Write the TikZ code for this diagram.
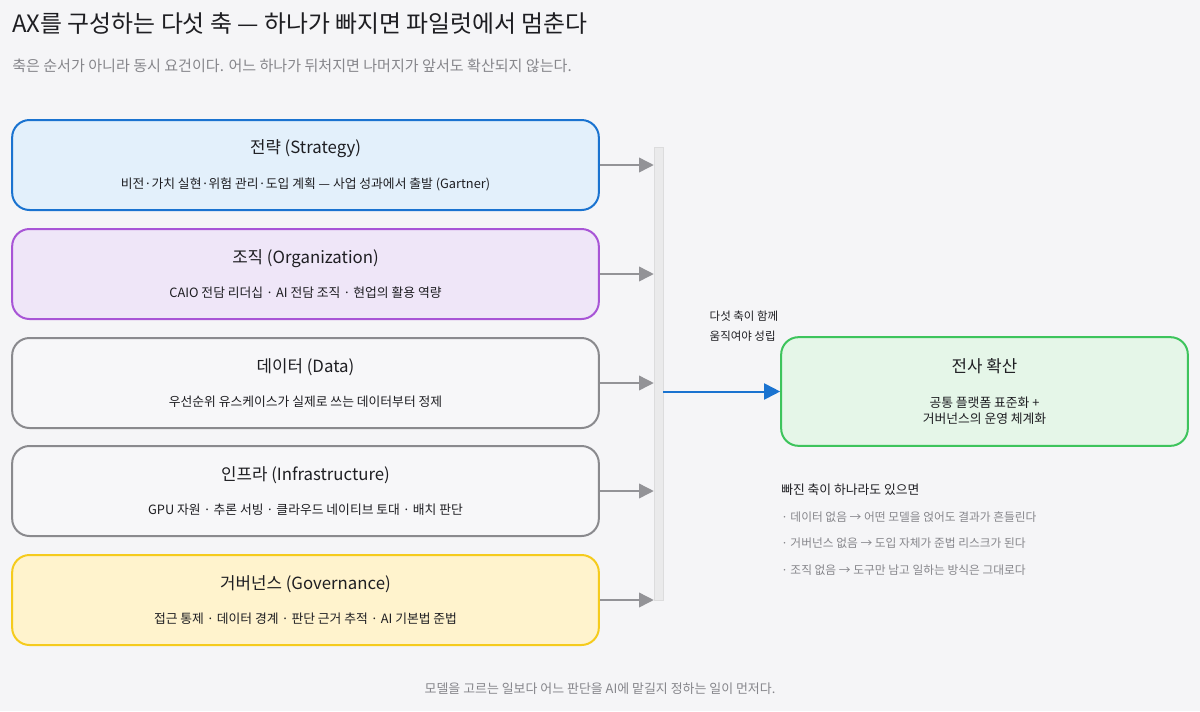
\documentclass[tikz,border=0pt]{standalone}
\usepackage{fontspec}
\setmainfont{Noto Sans CJK KR}
\usetikzlibrary{arrows.meta, positioning, calc}
\definecolor{bgc}{HTML}{F5F5F7}
\definecolor{stradraw}{HTML}{1A73D0}
\definecolor{strafill}{HTML}{E3F0FB}
\definecolor{orgadraw}{HTML}{A855D6}
\definecolor{orgafill}{HTML}{EFE6F8}
\definecolor{plaindraw}{HTML}{8A8A8E}
\definecolor{plainfill}{HTML}{F7F7F9}
\definecolor{govdraw}{HTML}{F5CB1D}
\definecolor{govfill}{HTML}{FFF3CD}
\definecolor{goaldraw}{HTML}{3DC45C}
\definecolor{goalfill}{HTML}{E5F6E8}
\definecolor{txt}{HTML}{1E1E22}
\definecolor{muted}{HTML}{86868B}
\definecolor{arrowgray}{HTML}{939397}
\newcommand{\boxhead}{\fontsize{12.6}{14}\selectfont}
\tikzset{
  every node/.style={text=txt},
  axis/.style  = {rectangle, rounded corners=13pt, line width=1.5pt, inner sep=0pt,
                  align=center, minimum width=440pt, minimum height=67.5pt,
                  font=\fontsize{9.6}{12}\selectfont},
  stra/.style  = {axis, draw=stradraw, fill=strafill},
  orga/.style  = {axis, draw=orgadraw, fill=orgafill},
  plain/.style = {axis, draw=plaindraw, fill=plainfill},
  gover/.style = {axis, draw=govdraw, fill=govfill},
  goal/.style  = {axis, draw=goaldraw, fill=goalfill, minimum width=305pt, minimum height=81.5pt},
  garrow/.style = {-{Triangle[length=11pt,width=11pt]}, draw=arrowgray, fill=arrowgray, line width=1.1pt},
  barrow/.style = {-{Triangle[length=12pt,width=12pt]}, draw=stradraw, fill=stradraw, line width=1.5pt},
  note/.style  = {anchor=west, align=left, font=\fontsize{8.6}{15}\selectfont},
  item/.style  = {anchor=west, inner sep=0pt, text=muted, font=\fontsize{8.8}{11}\selectfont},
}

\begin{document}
\begin{tikzpicture}[x=0.75pt, y=-0.75pt]
  \fill[bgc] (0,0) rectangle (1200,711);
  \useasboundingbox (0,0) rectangle (1200,711);

  \node[anchor=west, inner sep=0pt, font=\fontsize{17.9}{20}\selectfont] (title) at (12,24) {AX를 구성하는 다섯 축 — 하나가 빠지면 파일럿에서 멈춘다};
  \node[anchor=west, inner sep=0pt, text=muted, font=\fontsize{11.3}{13}\selectfont] (sub) at (12,66) {축은 순서가 아니라 동시 요건이다. 어느 하나가 뒤처지면 나머지가 앞서도 확산되지 않는다.};

  % five axes
  \node[stra]  (strat) at (305.5,165) {{\boxhead 전략 (Strategy)}\\[14pt]비전·가치 실현·위험 관리·도입 계획 — 사업 성과에서 출발 (Gartner)};
  \node[orga]  (org)   at (305.5,274) {{\boxhead 조직 (Organization)}\\[14pt]CAIO 전담 리더십 · AI 전담 조직 · 현업의 활용 역량};
  \node[plain] (dat)   at (305.5,383) {{\boxhead 데이터 (Data)}\\[14pt]우선순위 유스케이스가 실제로 쓰는 데이터부터 정제};
  \node[plain] (infra) at (305.5,491) {{\boxhead 인프라 (Infrastructure)}\\[14pt]GPU 자원 · 추론 서빙 · 클라우드 네이티브 토대 · 배치 판단};
  \node[gover] (gov)   at (305.5,600) {{\boxhead 거버넌스 (Governance)}\\[14pt]접근 통제 · 데이터 경계 · 판단 근거 추적 · AI 기본법 준법};

  \node[rectangle, draw=plaindraw!30, fill=plaindraw!18, inner sep=0pt, minimum width=6.75pt, minimum height=340pt] (bar) at (658.5,373.5) {};

  \foreach \ax in {strat, org, dat, infra, gov}
    \draw[garrow] (\ax.east) -- (\ax.east -| bar.west);

  % result
  \node[goal] (ent) at (984.5,391.5) {{\boxhead 전사 확산}\\[14pt]공통 플랫폼 표준화 +\\거버넌스의 운영 체계화};
  \draw[barrow] (ent.west -| bar.east) -- (ent.west);
  \node[note] (together) at (705,326) {다섯 축이 함께\\움직여야 성립};

  \node[anchor=west, inner sep=0pt, font=\fontsize{9.6}{11}\selectfont] (miss) at (781,490) {빠진 축이 하나라도 있으면};
  \node[item] (m1) at (781,517) {· 데이터 없음 → 어떤 모델을 얹어도 결과가 흔들린다};
  \node[item] (m2) at (781,543) {· 거버넌스 없음 → 도입 자체가 준법 리스크가 된다};
  \node[item] (m3) at (781,570) {· 조직 없음 → 도구만 남고 일하는 방식은 그대로다};

  \node[text=muted, font=\fontsize{9.7}{11}\selectfont] (foot) at (600,689) {모델을 고르는 일보다 어느 판단을 AI에 맡길지 정하는 일이 먼저다.};
\end{tikzpicture}
\end{document}
